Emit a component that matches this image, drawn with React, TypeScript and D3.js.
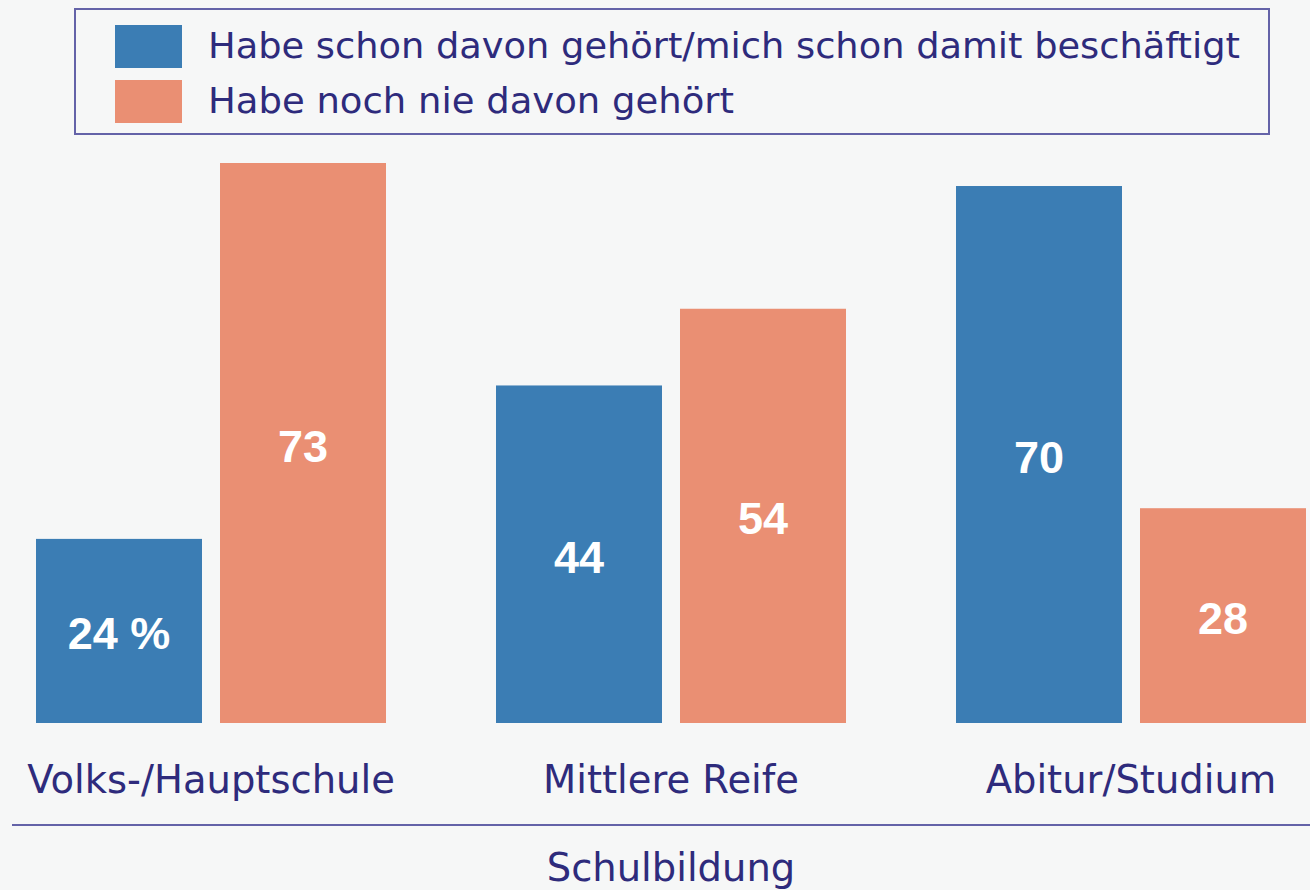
import React from "react";
import * as d3 from "d3";

const categories = ["Volks-/Hauptschule", "Mittlere Reife", "Abitur/Studium"];
const seriesNames = [
  "Habe schon davon gehört/mich schon damit beschäftigt",
  "Habe noch nie davon gehört",
];
const heardValues = [24, 44, 70];
const neverValues = [73, 54, 28];
const valueLabelsHeard = ["24 %", "44", "70"];
const valueLabelsNever = ["73", "54", "28"];
const axisTitle = "Schulbildung";

const W = 1310;
const H = 890;
const COLORS = ["#3b7db4", "#ea8f73"];
const TEXT = "#2e2b7c";
const LINE = "#6463a8";
const FONT = "'DejaVu Sans', 'Liberation Sans', sans-serif";
const BOLD = "'Liberation Sans', Arial, sans-serif";

export default function App() {
  const x0 = d3
    .scaleBand<string>()
    .domain(categories)
    .range([36, 1306])
    .paddingInner(110 / 460)
    .paddingOuter(0);
  const x1 = d3
    .scaleBand<number>()
    .domain([0, 1])
    .range([0, x0.bandwidth()])
    .paddingInner(18 / 184)
    .paddingOuter(0);
  const y = d3.scaleLinear().domain([0, 73]).range([723, 163]);

  const series = [
    { values: heardValues, labels: valueLabelsHeard },
    { values: neverValues, labels: valueLabelsNever },
  ];

  return (
    <svg
      width={W}
      height={H}
      style={{ position: "absolute", left: 0, top: 0, background: "#f6f7f7" }}
    >
      <rect x={0} y={0} width={W} height={H} fill="#f6f7f7" />
      {/* legend */}
      <rect x={75} y={9} width={1194} height={125} fill="none" stroke={LINE} strokeWidth={2} />
      {seriesNames.map((n, i) => (
        <g key={n}>
          <rect x={115} y={25 + i * 55} width={67} height={43} fill={COLORS[i]} />
          <text
            x={208}
            y={58 + i * 55}
            fontFamily={FONT}
            fontSize={35}
            fill={TEXT}
            textLength={i === 0 ? 1032 : 526}
            lengthAdjust="spacingAndGlyphs"
          >
            {n}
          </text>
        </g>
      ))}
      {/* bars */}
      {categories.map((c, ci) => (
        <g key={c} transform={`translate(${x0(c)},0)`}>
          {series.map((s, si) => {
            const v = s.values[ci];
            const bx = x1(si)!;
            const bw = x1.bandwidth();
            return (
              <g key={si}>
                <rect x={bx} y={y(v)} width={bw} height={y(0) - y(v)} fill={COLORS[si]} />
                <text
                  x={bx + bw / 2}
                  y={(y(v) + y(0)) / 2 + 3}
                  textAnchor="middle"
                  dominantBaseline="central"
                  fontFamily={BOLD}
                  fontWeight="bold"
                  fontSize={45}
                  fill="#ffffff"
                >
                  {s.labels[ci]}
                </text>
              </g>
            );
          })}
          <text
            x={x0.bandwidth() / 2}
            y={793}
            textAnchor="middle"
            fontFamily={FONT}
            fontSize={38.5}
            fill={TEXT}
          >
            {c}
          </text>
        </g>
      ))}
      <line x1={12} x2={W} y1={825} y2={825} stroke={LINE} strokeWidth={2} />
      <text
        x={x0(categories[1])! + x0.bandwidth() / 2}
        y={881}
        textAnchor="middle"
        fontFamily={FONT}
        fontSize={38.5}
        fill={TEXT}
      >
        {axisTitle}
      </text>
    </svg>
  );
}
